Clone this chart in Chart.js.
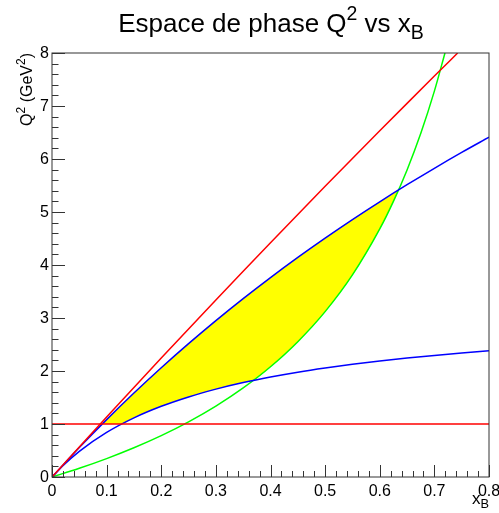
<!DOCTYPE html>
<html>
<head>
<meta charset="utf-8">
<script src="https://cdn.jsdelivr.net/npm/chart.js@4/dist/chart.umd.min.js"></script>
<style>
  html, body { margin: 0; padding: 0; background: #fff; }
  canvas { display: block; }
</style>
</head>
<body>
<canvas id="c" width="499" height="513"></canvas>
<script>
// valeurs
const redX   = [0, 0.05, 0.1, 0.15, 0.2, 0.25, 0.3, 0.35, 0.4, 0.45, 0.5, 0.55, 0.6, 0.65, 0.7, 0.7426];
const redQ2  = [0, 0.567, 1.130, 1.689, 2.244, 2.794, 3.340, 3.882, 4.420, 4.954, 5.484, 6.010, 6.532, 7.050, 7.565, 8.0];

const blueHiX  = [0, 0.05, 0.1, 0.15, 0.2, 0.25, 0.3, 0.35, 0.4, 0.45, 0.5, 0.55, 0.6, 0.65, 0.7, 0.75, 0.8];
const blueHiQ2 = [0, 0.555, 1.082, 1.584, 2.061, 2.516, 2.951, 3.366, 3.763, 4.144, 4.508, 4.858, 5.193, 5.515, 5.825, 6.124, 6.411];

const blueLoX  = [0, 0.02, 0.05, 0.1, 0.15, 0.2, 0.25, 0.3, 0.35, 0.4, 0.45, 0.5, 0.55, 0.6, 0.65, 0.7, 0.75, 0.8];
const blueLoQ2 = [0, 0.213, 0.484, 0.841, 1.116, 1.334, 1.511, 1.658, 1.782, 1.887, 1.978, 2.057, 2.127, 2.189, 2.245, 2.294, 2.339, 2.380];

const greenX  = [0, 0.05, 0.1, 0.15, 0.2, 0.25, 0.3, 0.35, 0.4, 0.45, 0.5, 0.55, 0.6, 0.625, 0.65, 0.675, 0.7, 0.7194];
const greenQ2 = [0, 0.164, 0.347, 0.551, 0.780, 1.040, 1.337, 1.680, 2.080, 2.553, 3.120, 3.813, 4.680, 5.200, 5.794, 6.480, 7.280, 8.0];

const cutX  = [0, 0.8];
const cutQ2 = [1, 1];

// zone permise (jaune)
const zoneHiX  = [0.092, 0.1, 0.15, 0.2, 0.25, 0.3, 0.35, 0.4, 0.45, 0.5, 0.55, 0.6, 0.6345];
const zoneHiQ2 = [1.0, 1.082, 1.584, 2.061, 2.516, 2.951, 3.366, 3.763, 4.144, 4.508, 4.858, 5.193, 5.416];
const zoneLoX  = [0.092, 0.1273, 0.15, 0.2, 0.25, 0.3, 0.35, 0.3688, 0.4, 0.45, 0.5, 0.55, 0.6, 0.6345];
const zoneLoQ2 = [1.0, 1.0, 1.116, 1.334, 1.511, 1.658, 1.782, 1.823, 2.080, 2.553, 3.120, 3.813, 4.680, 5.416];

const xTicks = [0, 0.1, 0.2, 0.3, 0.4, 0.5, 0.6, 0.7, 0.8];
const xTickLabels = ['0', '0.1', '0.2', '0.3', '0.4', '0.5', '0.6', '0.7', '0.8'];
const yTicks = [0, 1, 2, 3, 4, 5, 6, 7, 8];
const yTickLabels = ['0', '1', '2', '3', '4', '5', '6', '7', '8'];

const FONT = '"Liberation Sans", Arial, Helvetica, sans-serif';

function pts(xs, ys) { return xs.map((x, i) => ({ x: x, y: ys[i] })); }

function curve(data, color) {
	return { data, borderColor: color, borderWidth: 1.5, pointRadius: 0, fill: false, cubicInterpolationMode: 'monotone' };
}

// texte avec exposant / indice
function richWidth(ctx, parts, size) {
	let w = 0;
	parts.forEach(p => {
		ctx.font = `${p[1] ? size * 0.75 : size}px ${FONT}`;
		w += ctx.measureText(p[0]).width;
	});
	return w;
}
function drawRich(ctx, parts, x, y, size, align) {
	const w = richWidth(ctx, parts, size);
	let cx = align === 'center' ? x - w / 2 : (align === 'right' ? x - w : x);
	ctx.textAlign = 'left';
	ctx.textBaseline = 'alphabetic';
	parts.forEach(p => {
		const s = p[1] ? size * 0.75 : size;
		let dy = 0;
		if (p[1] === 'sup') dy = -size * 0.45;
		if (p[1] === 'sub') dy = size * 0.25;
		ctx.font = `${s}px ${FONT}`;
		ctx.fillText(p[0], cx, y + dy);
		cx += ctx.measureText(p[0]).width;
	});
}

const rootFrame = {
	id: 'rootFrame',
	afterDraw(chart) {
		const { ctx, chartArea: a, scales } = chart;
		const xs = scales.x, ys = scales.y;
		ctx.save();
		ctx.strokeStyle = '#333';
		ctx.lineWidth = 1;
		ctx.strokeRect(a.left, a.top, a.right - a.left, a.bottom - a.top);

		ctx.beginPath();
		// ticks x
		for (let v = 0; v <= 0.8001; v += 0.02) {
			const px = Math.round(xs.getPixelForValue(v)) + 0.5;
			const major = Math.abs(v * 10 - Math.round(v * 10)) < 1e-6;
			ctx.moveTo(px, a.bottom);
			ctx.lineTo(px, a.bottom - (major ? 12 : 6));
		}
		// ticks y
		for (let v = 0; v <= 8.001; v += 0.2) {
			const py = Math.round(ys.getPixelForValue(v)) + 0.5;
			const major = Math.abs(v - Math.round(v)) < 1e-6;
			ctx.moveTo(a.left, py);
			ctx.lineTo(a.left + (major ? 13 : 6.5), py);
		}
		ctx.stroke();

		ctx.fillStyle = '#000';
		ctx.font = `16px ${FONT}`;
		ctx.textAlign = 'center';
		ctx.textBaseline = 'alphabetic';
		xTicks.forEach((v, i) => ctx.fillText(xTickLabels[i], xs.getPixelForValue(v), 496));
		ctx.textAlign = 'right';
		ctx.textBaseline = 'middle';
		yTicks.forEach((v, i) => ctx.fillText(yTickLabels[i], 49, ys.getPixelForValue(v) + 1));

		// titre
		drawRich(ctx, [['Espace de phase Q', ''], ['2', 'sup'], [' vs x', ''], ['B', 'sub']], 271, 32, 26, 'center');

		// titre axe x
		drawRich(ctx, [['x', ''], ['B', 'sub']], 489, 504, 17, 'right');

		// titre axe y
		ctx.save();
		ctx.translate(32, 53);
		ctx.rotate(-Math.PI / 2);
		drawRich(ctx, [['Q', ''], ['2', 'sup'], [' (GeV', ''], ['2', 'sup'], [')', '']], 0, 0, 16, 'right');
		ctx.restore();
		ctx.restore();
	}
};

new Chart(document.getElementById('c'), {
	type: 'line',
	data: {
		datasets: [
			curve(pts(cutX, cutQ2), '#ff0000'),
			curve(pts(redX, redQ2), '#ff0000'),
			curve(pts(blueHiX, blueHiQ2), '#0000ff'),
			curve(pts(blueLoX, blueLoQ2), '#0000ff'),
			curve(pts(greenX, greenQ2), '#00ff00'),
			{ data: pts(zoneHiX, zoneHiQ2), borderWidth: 0, pointRadius: 0, backgroundColor: '#ffff00', fill: '+1', cubicInterpolationMode: 'monotone' },
			{ data: pts(zoneLoX, zoneLoQ2), borderWidth: 0, pointRadius: 0, fill: false, cubicInterpolationMode: 'monotone' }
		]
	},
	options: {
		responsive: false,
		animation: false,
		devicePixelRatio: 1,
		layout: { padding: { left: 52, top: 53, right: 10, bottom: 36 } },
		plugins: { legend: { display: false }, tooltip: { enabled: false }, title: { display: false } },
		scales: {
			x: { type: 'linear', min: 0, max: 0.8, display: false },
			y: { type: 'linear', min: 0, max: 8, display: false }
		}
	},
	plugins: [rootFrame]
});
</script>
</body>
</html>
